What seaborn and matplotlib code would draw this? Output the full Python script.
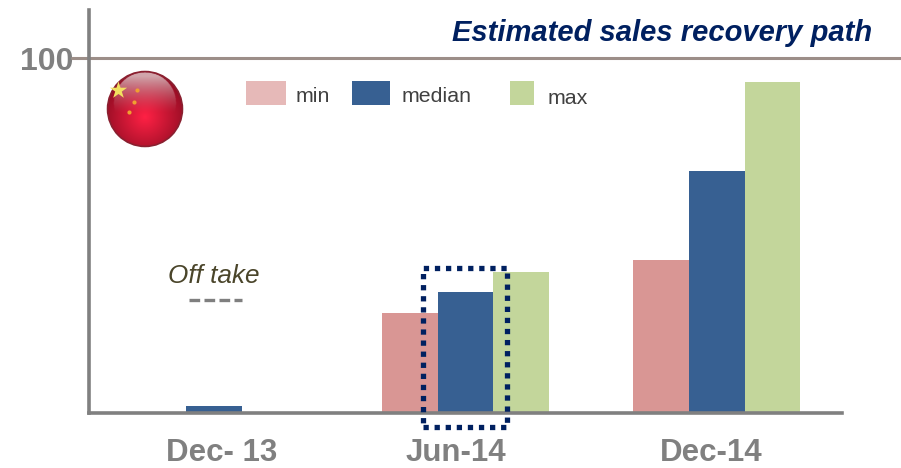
import numpy as np
import pandas as pd
import matplotlib
matplotlib.use("Agg")
import matplotlib.pyplot as plt
from matplotlib.patches import Rectangle, Circle
from matplotlib.lines import Line2D
from matplotlib.transforms import ScaledTranslation
import seaborn as sns

periods = ["Dec- 13", "Jun-14", "Dec-14"]
scenarios = ["min", "median", "max"]
min_values = [np.nan, 28.3, 43.1]
median_values = [2.0, 34.0, 68.2]
max_values = [np.nan, 39.8, 93.2]
bar_colors = ["#D99694", "#376092", "#C3D69B"]
legend_colors = ["#E6B9B8", "#376092", "#C3D69B"]

W, H = 901, 468
sns.set_theme(style="white")
plt.rcParams["font.family"] = ["Liberation Sans", "DejaVu Sans"]

def fx(x): return x / W
def fy(y): return 1 - y / H

df = pd.DataFrame({
    "period": periods * 3,
    "scenario": [s for s in scenarios for _ in periods],
    "value": min_values + median_values + max_values,
})

fig = plt.figure(figsize=(W / 100, H / 100), dpi=100, facecolor="white")
ax = fig.add_axes([fx(88.5), fy(413), fx(842 - 88), (413 - 10) / H])
sns.barplot(data=df, x="period", y="value", hue="scenario", order=periods,
            hue_order=scenarios, palette=bar_colors, width=0.664, gap=0,
            saturation=1, legend=False, errorbar=None, edgecolor="none", linewidth=0, ax=ax)
ax.set_xlim(-0.5, 2.5)
ax.set_ylim(0, 403 / 3.55)
ax.set_xlabel("")
ax.set_ylabel("")
ax.set_yticks([100])
ax.set_yticklabels(["100"], fontsize=23, fontweight="bold", color="#808080")
ax.tick_params(axis="y", length=0, pad=11)
ax.tick_params(axis="x", length=0, pad=18)
ax.set_xticks(range(3))
ax.set_xticklabels(periods, fontsize=22.5, fontweight="bold", color="#808080")
offsets = [(7, 0), (-10, 0), (-6, 0)]
for lab, (dx, dy) in zip(ax.get_xticklabels(), offsets):
    lab.set_transform(lab.get_transform() + ScaledTranslation(dx / 100, dy / 100, fig.dpi_scale_trans))
for s in ["top", "right"]:
    ax.spines[s].set_visible(False)
for s in ["left", "bottom"]:
    ax.spines[s].set_color("#808080")
    ax.spines[s].set_linewidth(2.6)

# reference line at 100 runs past the plot to the picture edge
ax.add_line(Line2D([72 / W, 1], [fy(58), fy(58)], transform=fig.transFigure,
                   color="#9C8E88", lw=2.2, clip_on=False, zorder=1))

fig.text(fx(872), fy(33), "Estimated sales recovery path", ha="right", va="center",
         fontsize=21, fontweight="bold", fontstyle="italic", color="#002060")
fig.text(fx(214), fy(276), "Off take", ha="center", va="center",
         fontsize=18.8, fontstyle="italic", color="#4A452A")
fig.add_artist(Line2D([fx(189), fx(242)], [fy(300), fy(300)], color="#7F7F7F",
                      lw=2.4, ls=(0, (3.2, 1.3))))

# hand-placed legend
for (x0, x1, tx, ty), lab, col in zip([(246, 286, 296, 97), (352, 390, 402, 97), (510, 534, 548, 98)],
                                      scenarios, legend_colors):
    fig.add_artist(Rectangle((fx(x0), fy(105)), fx(x1 - x0), 24 / H, transform=fig.transFigure,
                             facecolor=col, edgecolor="none"))
    fig.text(fx(tx), fy(ty), lab, ha="left", va="center", fontsize=15.4, color="#404040")

# highlight box
fig.add_artist(Rectangle((fx(423), fy(427)), fx(84), 159 / H, transform=fig.transFigure,
                         fill=False, edgecolor="#002060", lw=3.8, ls=(0, (1, 1.1)), zorder=5))

# flag badge
flag = fig.add_axes([fx(106), fy(148), fx(78), 78 / H])
flag.set_xlim(-1, 1)
flag.set_ylim(-1, 1)
flag.set_aspect("equal")
flag.axis("off")
n = 200
yy, xx = np.mgrid[1:-1:n * 1j, -1:1:n * 1j]
r = np.hypot(xx, yy + 0.2)
base = np.clip(r / 1.1, 0, 1)[..., None]
img = (1 - base) * np.array([1.0, 0.13, 0.27]) + base * np.array([0.58, 0.05, 0.14])
gloss = (np.clip((yy + 0.1) / 0.95, 0, 1) ** 1.4)[..., None] * (np.hypot(xx, yy - 0.15) < 0.8)[..., None] * 0.75
img = img * (1 - gloss) + gloss * np.array([0.9, 0.85, 0.85])
im = flag.imshow(img, extent=[-1, 1, -1, 1], interpolation="bilinear", zorder=1)
clip = Circle((0, 0), 0.96, transform=flag.transData)
im.set_clip_path(clip)
flag.add_patch(Circle((0, 0), 0.96, fill=False, edgecolor="#8A2030", lw=1.2, zorder=2))
flag.scatter([-0.68], [0.5], marker="*", s=170, color="#F2E060", zorder=3, linewidths=0)
flag.scatter([-0.2, -0.27, -0.42], [0.5, 0.18, -0.07], s=9, color="#F0A030", zorder=3, linewidths=0)

fig.savefig("out.png", dpi=100, facecolor="white")
